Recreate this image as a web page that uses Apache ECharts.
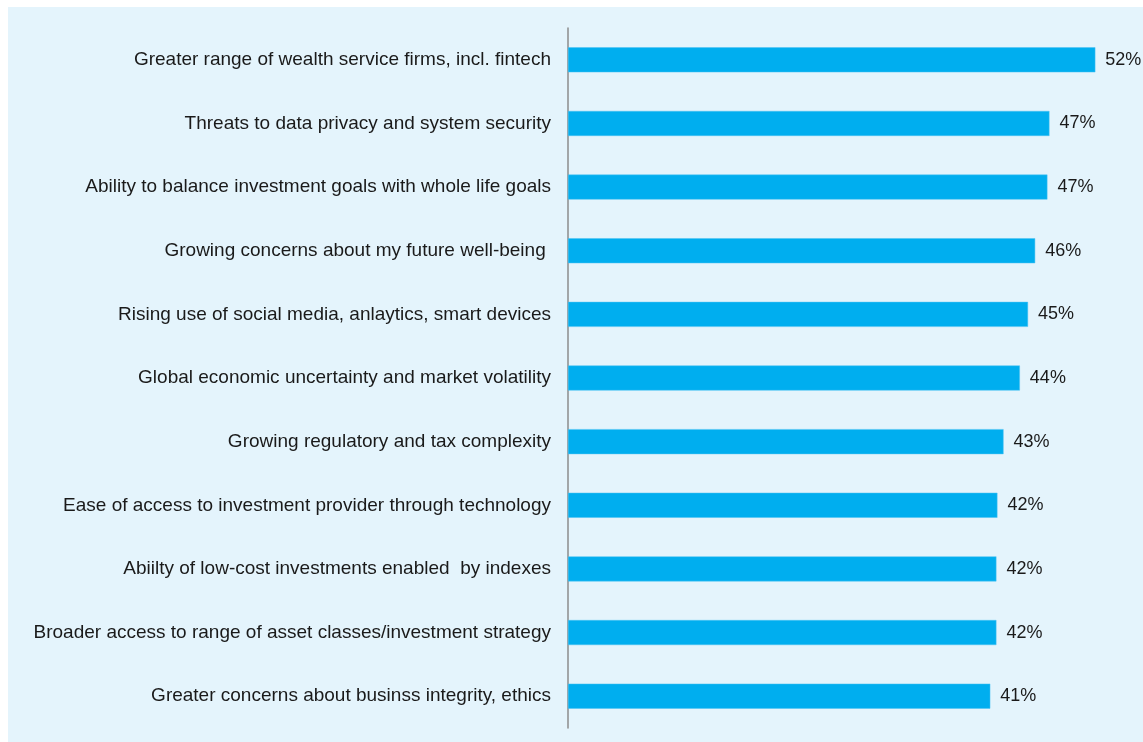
<!DOCTYPE html>
<html>
<head>
<meta charset="utf-8">
<script src="https://cdn.jsdelivr.net/npm/echarts@6/dist/echarts.min.js"></script>
<style>
  html, body { margin: 0; padding: 0; background: #fff; }
  #chart { width: 1143px; height: 742px; }
</style>
</head>
<body>
<div id="chart"></div>
<script>
var categories = [
  'Greater range of wealth service firms, incl. fintech',
  'Threats to data privacy and system security',
  'Ability to balance investment goals with whole life goals',
  'Growing concerns about my future well-being ',
  'Rising use of social media, anlaytics, smart devices',
  'Global economic uncertainty and market volatility',
  'Growing regulatory and tax complexity',
  'Ease of access to investment provider through technology',
  'Abiilty of low-cost investments enabled  by indexes',
  'Broader access to range of asset classes/investment strategy',
  'Greater concerns about businss integrity, ethics'
];
// share of respondents (%), labels shown rounded
var values = [51.7, 47.2, 47.0, 45.8, 45.1, 44.3, 42.7, 42.1, 42.0, 42.0, 41.4];

var myChart = echarts.init(document.getElementById('chart'));

myChart.setOption({
  animation: false,
  graphic: [
    {
      type: 'rect',
      z: -10,
      silent: true,
      shape: { x: 8, y: 7, width: 1135, height: 735 },
      style: { fill: '#e4f4fc' }
    }
  ],
  grid: {
    left: 568,
    top: 28,
    width: 561,
    height: 700
  },
  xAxis: {
    type: 'value',
    min: 0,
    max: 55,
    show: false,
    splitLine: { show: false }
  },
  yAxis: {
    type: 'category',
    inverse: true,
    data: categories,
    axisTick: { show: false },
    axisLine: {
      show: true,
      lineStyle: { color: '#8c8c8c', width: 1.5 }
    },
    axisLabel: {
      margin: 17,
      color: '#1a1a1a',
      fontFamily: 'Liberation Sans',
      fontSize: 19
    }
  },
  series: [
    {
      type: 'bar',
      data: values,
      barWidth: 25,
      itemStyle: {
        color: '#00aeef',
        borderColor: '#4cc3f2',
        borderWidth: 0.5
      },
      label: {
        show: true,
        position: 'right',
        distance: 10,
        color: '#1a1a1a',
        fontFamily: 'Liberation Sans',
        fontSize: 18,
        formatter: function (p) {
          return Math.round(p.value) + '%';
        }
      }
    }
  ]
});
</script>
</body>
</html>
